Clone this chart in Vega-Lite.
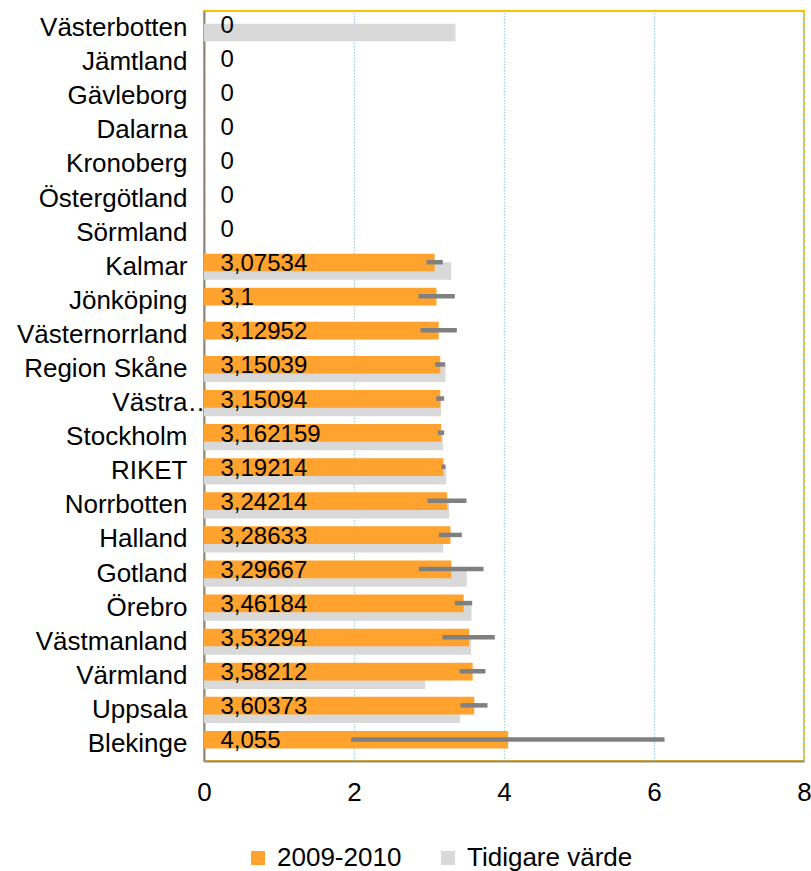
{
  "$schema": "https://vega.github.io/schema/vega-lite/v6.json",
  "autosize": {"type": "none"},
  "width": 600,
  "height": 750,
  "padding": {"left": 204, "top": 11, "right": 7, "bottom": 110},
  "background": "white",
  "config": {
    "locale": {"number": {"decimal": ",", "thousands": " ", "grouping": [3], "currency": ["", " kr"]}},
    "view": {"stroke": "#FFC000", "strokeWidth": 2},
    "font": "Liberation Sans"
  },
  "data": {
    "values": [
      {"region": "Västerbotten", "value": 0, "prev": 3.353, "lo": null, "hi": null},
      {"region": "Jämtland", "value": 0, "prev": null, "lo": null, "hi": null},
      {"region": "Gävleborg", "value": 0, "prev": null, "lo": null, "hi": null},
      {"region": "Dalarna", "value": 0, "prev": null, "lo": null, "hi": null},
      {"region": "Kronoberg", "value": 0, "prev": null, "lo": null, "hi": null},
      {"region": "Östergötland", "value": 0, "prev": null, "lo": null, "hi": null},
      {"region": "Sörmland", "value": 0, "prev": null, "lo": null, "hi": null},
      {"region": "Kalmar", "value": 3.07534, "prev": 3.296, "lo": 2.967, "hi": 3.184},
      {"region": "Jönköping", "value": 3.1, "prev": null, "lo": 2.86, "hi": 3.344},
      {"region": "Västernorrland", "value": 3.12952, "prev": null, "lo": 2.887, "hi": 3.371},
      {"region": "Region Skåne", "value": 3.15039, "prev": 3.22, "lo": 3.082, "hi": 3.216},
      {"region": "Västra Götaland", "value": 3.15094, "prev": 3.162, "lo": 3.096, "hi": 3.202},
      {"region": "Stockholm", "value": 3.162159, "prev": 3.189, "lo": 3.118, "hi": 3.202},
      {"region": "RIKET", "value": 3.19214, "prev": 3.229, "lo": 3.167, "hi": 3.22},
      {"region": "Norrbotten", "value": 3.24214, "prev": 3.269, "lo": 2.98, "hi": 3.5},
      {"region": "Halland", "value": 3.28633, "prev": 3.189, "lo": 3.131, "hi": 3.438},
      {"region": "Gotland", "value": 3.29667, "prev": 3.504, "lo": 2.864, "hi": 3.727},
      {"region": "Örebro", "value": 3.46184, "prev": 3.567, "lo": 3.344, "hi": 3.576},
      {"region": "Västmanland", "value": 3.53294, "prev": 3.562, "lo": 3.18, "hi": 3.877},
      {"region": "Värmland", "value": 3.58212, "prev": 2.949, "lo": 3.407, "hi": 3.753},
      {"region": "Uppsala", "value": 3.60373, "prev": 3.416, "lo": 3.42, "hi": 3.78},
      {"region": "Blekinge", "value": 4.055, "prev": null, "lo": 1.963, "hi": 6.14}
    ]
  },
  "encoding": {
    "y": {
      "field": "region",
      "type": "nominal",
      "sort": null,
      "scale": {
        "domain": ["Västerbotten", "Jämtland", "Gävleborg", "Dalarna", "Kronoberg", "Östergötland", "Sörmland", "Kalmar", "Jönköping", "Västernorrland", "Region Skåne", "Västra Götaland", "Stockholm", "RIKET", "Norrbotten", "Halland", "Gotland", "Örebro", "Västmanland", "Värmland", "Uppsala", "Blekinge"],
        "paddingInner": 0,
        "paddingOuter": 0
      },
      "axis": {
        "title": null,
        "ticks": false,
        "domainColor": "#8F8A78",
        "domainWidth": 2,
        "labelFont": "Liberation Sans",
        "labelFontSize": 26,
        "labelColor": "#000000",
        "labelLimit": 300,
        "labelPadding": {"condition": {"test": "datum.value === 'Västra Götaland'", "value": -9}, "value": 17},
        "labelExpr": "datum.value === 'Västra Götaland' ? 'Västra…' : datum.label"
      }
    }
  },
  "layer": [
    {
      "mark": {"type": "bar", "height": 17.5, "yOffset": 4.4},
      "encoding": {
        "x": {
          "field": "prev",
          "type": "quantitative",
          "scale": {"domain": [0, 8], "nice": false},
          "axis": {
            "title": null,
            "values": [0, 2, 4, 6, 8],
            "ticks": false,
            "domainColor": "#8F8A78",
            "domainWidth": 2,
            "grid": true,
            "gridColor": "#9FD3D8",
            "gridDash": [1.5, 1.5],
            "gridWidth": 1.3,
            "labelFont": "Liberation Sans",
            "labelFontSize": 26,
            "labelColor": "#000000",
            "labelPadding": 18,
            "labelFlush": false,
            "format": "d"
          }
        },
        "color": {"datum": "Tidigare värde"}
      }
    },
    {
      "mark": {"type": "bar", "height": 17.7, "yOffset": -4.2},
      "encoding": {
        "x": {"field": "value", "type": "quantitative"},
        "color": {
          "datum": "2009-2010",
          "scale": {"domain": ["2009-2010", "Tidigare värde"], "range": ["#FFA22E", "#D9D9D9"]},
          "legend": {
            "title": null,
            "orient": "none",
            "legendX": 41,
            "legendY": 834,
            "direction": "horizontal",
            "symbolType": "square",
            "symbolSize": 196,
            "symbolStrokeWidth": 0,
            "labelFont": "Liberation Sans",
            "labelFontSize": 26,
            "labelColor": "#000000",
            "labelOffset": 6,
            "labelLimit": 400,
            "columnPadding": 33,
            "padding": 0
          }
        }
      }
    },
    {
      "mark": {"type": "rule", "color": "#808080", "strokeWidth": 4.5, "yOffset": -4.5},
      "encoding": {
        "x": {"field": "lo", "type": "quantitative"},
        "x2": {"field": "hi"}
      }
    },
    {
      "mark": {"type": "text", "align": "left", "baseline": "middle", "dx": 16.5, "yOffset": -2.5, "font": "Liberation Sans", "fontSize": 24, "color": "#000000"},
      "encoding": {
        "x": {"datum": 0},
        "text": {"field": "value", "type": "quantitative", "format": ".7~g"}
      }
    }
  ]
}
